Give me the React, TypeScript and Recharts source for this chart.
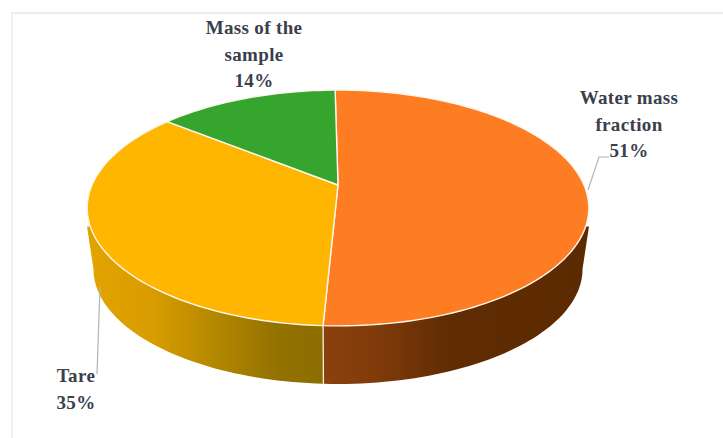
import React from "react";
import { PieChart, Pie } from "recharts";

// Mass balance of the sample, in percent
const categories = ["Water mass fraction", "Tare", "Mass of the sample"];
const shares = [51, 35, 14];
const faceColors = ["#FF7D22", "#FFB600", "#36A52E"];

// Label text, split into lines
const labelLines = [["Water mass", "fraction"], ["Tare"], ["Mass of the", "sample"]];

const WIDTH = 723;
const HEIGHT = 438;
const APEX_X = 338;
const APEX_Y = 185;
const RADIUS = 246;
const START_ANGLE = 90.8;

// Perspective of the disc: the far edge is foreshortened, the near edge enlarged
const TILT = 0.195;
const FLATTEN = 0.461;
// Lower rim of the disc relative to the upper face
const RIM_DROP = 61.6;
const RIM_SCALE = 0.975;
// Angles (degrees, clockwise side negative) bounding the visible side wall
const RIM_RIGHT = -11.2;
const RIM_LEFT = -168.8;
const FACE_RIGHT = -20;
const FACE_LEFT = -160;
const CORNER_OVERHANG = 3.3;

const rows = categories.map((name, i) => ({ name, value: shares[i], fill: faceColors[i] }));

const wallStops: Record<string, [number, string][]> = {
  "Water mass fraction": [[0, "#8C420F"], [0.22, "#813C0B"], [0.5, "#602C03"], [1, "#5C2A00"]],
  Tare: [[0, "#E2A400"], [0.3, "#D89C00"], [0.6, "#B08600"], [0.85, "#947200"], [1, "#8D6E00"]],
  "Mass of the sample": [[0, "#267520"], [1, "#267520"]],
};

const wallBounds: Record<string, [number, number]> = {
  "Water mass fraction": [310, 590],
  Tare: [87, 310],
  "Mass of the sample": [170, 338],
};

function project(cx: number, cy: number, r: number, deg: number, rim: boolean): [number, number] {
  const t = (deg * Math.PI) / 180;
  const u = Math.cos(t);
  const v = Math.sin(t);
  const w = 1 + TILT * v;
  const s = rim ? RIM_SCALE : 1;
  return [cx + (r * s * u) / w, cy + (rim ? RIM_DROP : 0) - (r * FLATTEN * s * v) / w];
}

function arcPoints(cx: number, cy: number, r: number, a0: number, a1: number, rim: boolean) {
  const n = Math.max(2, Math.ceil(Math.abs(a1 - a0) / 1.5));
  const pts: [number, number][] = [];
  for (let i = 0; i <= n; i++) pts.push(project(cx, cy, r, a0 + ((a1 - a0) * i) / n, rim));
  return pts;
}

const toPath = (pts: [number, number][]) =>
  pts.map((p, i) => `${i ? "L" : "M"}${p[0].toFixed(2)} ${p[1].toFixed(2)}`).join(" ");

// Side wall of one slice, limited to the part facing the viewer
function WallShape(props: any) {
  const { cx, cy, outerRadius, startAngle, endAngle, name } = props;
  const hi = Math.min(startAngle, RIM_RIGHT);
  const lo = Math.max(endAngle, RIM_LEFT);
  if (hi <= lo) return <g />;

  const faceHi = Math.min(startAngle, FACE_RIGHT);
  const faceLo = Math.max(endAngle, FACE_LEFT);
  const top = arcPoints(cx, cy, outerRadius, faceHi, faceLo, false);
  const rim = arcPoints(cx, cy, outerRadius, hi, lo, true);

  if (startAngle > FACE_RIGHT) {
    const p = project(cx, cy, outerRadius, FACE_RIGHT, false);
    top.unshift([p[0] + CORNER_OVERHANG, p[1]]);
  }
  if (endAngle < FACE_LEFT) {
    const p = project(cx, cy, outerRadius, FACE_LEFT, false);
    top.push([p[0] - CORNER_OVERHANG, p[1]]);
  }

  const id = `wall-${String(name).replace(/\s+/g, "-")}`;
  const [x1, x2] = wallBounds[name];
  // Seam on the front of the disc where this slice's wall begins
  const seam = startAngle < RIM_RIGHT && startAngle > RIM_LEFT;
  const seamTop = project(cx, cy, outerRadius, startAngle, false);
  const seamRim = project(cx, cy, outerRadius, startAngle, true);
  return (
    <g>
      <defs>
        <linearGradient id={id} gradientUnits="userSpaceOnUse" x1={x1} x2={x2} y1={0} y2={0}>
          {wallStops[name].map(([o, c]) => (
            <stop key={o} offset={o} stopColor={c} />
          ))}
        </linearGradient>
      </defs>
      <path d={`${toPath([...top, ...rim.reverse()])} Z`} fill={`url(#${id})`} stroke="none" />
      {seam && <line x1={seamTop[0]} y1={seamTop[1]} x2={seamRim[0]} y2={seamRim[1]} stroke="#F4EEE6" strokeWidth={1.3} />}
    </g>
  );
}

function FaceShape(props: any) {
  const { cx, cy, outerRadius, startAngle, endAngle, fill } = props;
  const edge = arcPoints(cx, cy, outerRadius, startAngle, endAngle, false);
  return (
    <path
      d={`M${cx} ${cy} ${toPath(edge).replace(/^M/, "L")} Z`}
      fill={fill}
      stroke="#FBF6EE"
      strokeWidth={1.4}
      strokeLinejoin="round"
    />
  );
}

// Text anchor (centre x, first baseline) and leader line for each slice
const labelAnchors = [
  { x: 629, y: 104, leader: "M588 190 L599 157 L609 157" },
  { x: 76, y: 382, leader: "M100 287 L97 374" },
  { x: 254, y: 34, leader: "" },
];

function SliceLabel(props: any) {
  const { index, percent } = props;
  const a = labelAnchors[index];
  const lines = [...labelLines[index], `${Math.round(percent * 100)}%`];
  return (
    <g>
      {a.leader && <path d={a.leader} fill="none" stroke="#B4B4B4" strokeWidth={1.2} />}
      <text
        x={a.x}
        y={a.y}
        textAnchor="middle"
        fontFamily='"Liberation Serif", serif'
        fontWeight={700}
        fontSize={19}
        fill="#39404C"
        style={{ letterSpacing: "0.35px" }}
      >
        {lines.map((line, i) => (
          <tspan key={line} x={a.x} dy={i === 0 ? 0 : 26.6}>
            {line}
          </tspan>
        ))}
      </text>
    </g>
  );
}

export default function App() {
  return (
    <div style={{ position: "absolute", left: 0, top: 0, width: WIDTH, height: HEIGHT, background: "#fff", overflow: "hidden" }}>
      <div
        style={{
          position: "absolute",
          left: 11,
          top: 12,
          right: 0,
          bottom: 0,
          borderTop: "2px solid #ECECEC",
          borderLeft: "2px solid #F0F0F0",
        }}
      />
      <div style={{ position: "absolute", left: 0, top: 0 }}>
        <PieChart width={WIDTH} height={HEIGHT} margin={{ top: 0, right: 0, bottom: 0, left: 0 }}>
          <Pie
            data={rows}
            dataKey="value"
            nameKey="name"
            cx={APEX_X}
            cy={APEX_Y}
            outerRadius={RADIUS}
            startAngle={START_ANGLE}
            endAngle={START_ANGLE - 360}
            shape={WallShape}
            stroke="none"
            isAnimationActive={false}
          />
          <Pie
            data={rows}
            dataKey="value"
            nameKey="name"
            cx={APEX_X}
            cy={APEX_Y}
            outerRadius={RADIUS}
            startAngle={START_ANGLE}
            endAngle={START_ANGLE - 360}
            shape={FaceShape}
            label={SliceLabel}
            labelLine={false}
            isAnimationActive={false}
          />
        </PieChart>
      </div>
    </div>
  );
}
